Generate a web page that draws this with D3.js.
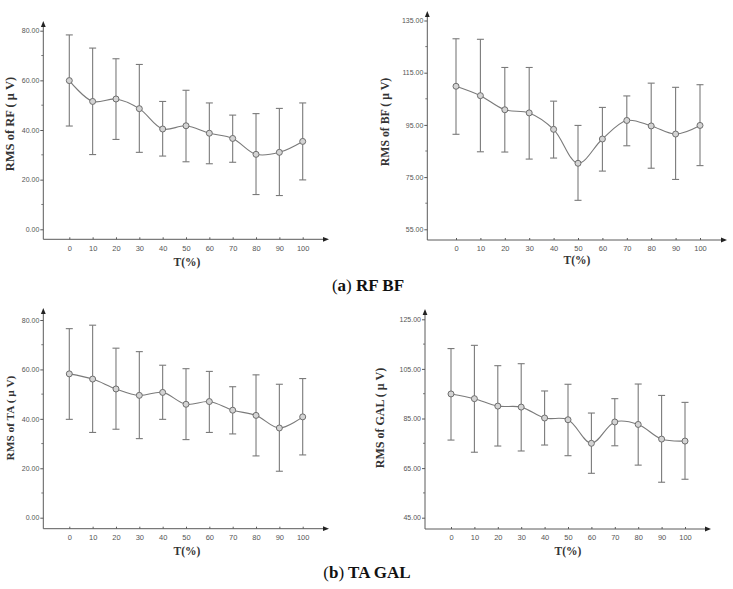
<!DOCTYPE html>
<html>
<head>
<meta charset="utf-8">
<script src="https://cdn.jsdelivr.net/npm/d3@7"></script>
<style>
  body { margin: 0; background: #fff; }
  svg { display: block; }
</style>
</head>
<body>
<svg id="chart" width="733" height="589"></svg>
<script>
// ---- data ----
const tPercent = [0, 10, 20, 30, 40, 50, 60, 70, 80, 90, 100];

const rfMean  = [59.9, 51.5, 52.5, 48.6, 40.4, 41.7, 38.7, 36.6, 30.2, 31.0, 35.4];
const rfUpper = [78.3, 73.0, 68.7, 66.4, 51.5, 56.0, 50.9, 46.0, 46.6, 48.7, 50.9];
const rfLower = [41.6, 30.1, 36.2, 31.0, 29.5, 27.2, 26.4, 27.0, 14.0, 13.6, 19.9];

const bfMean  = [109.8, 106.2, 100.8, 99.6, 93.3, 80.3, 89.6, 96.7, 94.6, 91.5, 94.8];
const bfUpper = [128.0, 127.8, 117.0, 117.0, 104.1, 94.8, 101.7, 106.1, 111.0, 109.4, 110.4];
const bfLower = [91.4, 84.7, 84.6, 81.9, 82.3, 66.1, 77.3, 87.0, 78.4, 74.1, 79.4];

const taMean  = [58.2, 56.1, 52.1, 49.5, 50.7, 45.9, 47.0, 43.5, 41.4, 36.3, 40.8];
const taUpper = [76.5, 77.9, 68.6, 67.2, 61.7, 60.3, 59.2, 53.0, 57.8, 54.0, 56.3];
const taLower = [39.8, 34.5, 35.8, 32.0, 39.8, 31.6, 34.5, 33.9, 25.0, 18.8, 25.4];

const galMean  = [94.9, 93.0, 90.0, 89.6, 85.2, 84.5, 75.0, 83.6, 82.6, 76.7, 75.9];
const galUpper = [113.2, 114.5, 106.3, 107.1, 96.1, 98.8, 87.2, 93.0, 98.9, 94.3, 91.5];
const galLower = [76.3, 71.4, 73.9, 71.9, 74.3, 70.0, 62.9, 74.0, 66.2, 59.3, 60.5];

const rfTicks  = [0, 20, 40, 60, 80];
const bfTicks  = [55, 75, 95, 115, 135];
const taTicks  = [0, 20, 40, 60, 80];
const galTicks = [45, 65, 85, 105, 125];

const rfLabel  = "RMS of RF ( \u03bc V)";
const bfLabel  = "RMS of BF ( \u03bc V)";
const taLabel  = "RMS of TA ( \u03bc V)";
const galLabel = "RMS of GAL ( \u03bc V)";
const xTitle = "T(%)";

// ---- layout ----
const panels = [
  { mean: rfMean, up: rfUpper, lo: rfLower, ticks: rfTicks, label: rfLabel,
    axisX: 43.3, axisY: 239.3, xr: [69.3, 302.7], yr: [229.3, 30.7], yTop: 21, xEnd: 329,
    labX: 10, labY: 124, labSize: 12.5, titleX: 187, titleY: 266 },
  { mean: bfMean, up: bfUpper, lo: bfLower, ticks: bfTicks, label: bfLabel,
    axisX: 427.3, axisY: 240, xr: [456, 700], yr: [229.3, 20.5], yTop: 11, xEnd: 727,
    labX: 385, labY: 122, labSize: 11.8, titleX: 577, titleY: 264 },
  { mean: taMean, up: taUpper, lo: taLower, ticks: taTicks, label: taLabel,
    axisX: 43.3, axisY: 528.7, xr: [69.3, 302.7], yr: [517.7, 320], yTop: 308, xEnd: 329,
    labX: 10, labY: 418, labSize: 11.3, titleX: 187, titleY: 555 },
  { mean: galMean, up: galUpper, lo: galLower, ticks: galTicks, label: galLabel,
    axisX: 425, axisY: 529, xr: [451, 685], yr: [517.7, 319.3], yTop: 309, xEnd: 711,
    labX: 380, labY: 418, labSize: 12, titleX: 568, titleY: 555 }
];

const svg = d3.select("#chart");
const axisColor = "#5a5a5a";
const lineColor = "#7a7a7a";

svg.append("defs").append("marker")
  .attr("id", "arrow").attr("viewBox", "0 0 10 10").attr("refX", 5).attr("refY", 5)
  .attr("markerWidth", 6).attr("markerHeight", 6).attr("orient", "auto")
  .append("path").attr("d", "M0,1 L10,5 L0,9 Z").attr("fill", "#222");

panels.forEach(p => {
  const g = svg.append("g");
  const x = d3.scaleLinear().domain([0, 100]).range(p.xr);
  const y = d3.scaleLinear().domain([p.ticks[0], p.ticks[p.ticks.length - 1]]).range(p.yr);

  // y axis
  const yAx = d3.axisLeft(y).tickValues(p.ticks).tickSize(3).tickFormat(d3.format(".2f"));
  const gy = g.append("g").attr("transform", `translate(${p.axisX},0)`).call(yAx);
  gy.select(".domain").remove();
  gy.selectAll(".tick line").attr("stroke", axisColor);
  gy.selectAll(".tick text").attr("font-family", "Liberation Sans, Arial, sans-serif")
    .attr("font-size", 7).attr("fill", "#555").attr("x", -4);
  // minor ticks
  const minor = p.ticks.slice(0, -1).map((t, i) => (t + p.ticks[i + 1]) / 2);
  g.selectAll(null).data(minor).enter().append("line")
    .attr("x1", p.axisX - 2).attr("x2", p.axisX)
    .attr("y1", d => y(d)).attr("y2", d => y(d))
    .attr("stroke", axisColor).attr("stroke-width", 0.8);
  g.append("line").attr("x1", p.axisX).attr("x2", p.axisX)
    .attr("y1", p.axisY).attr("y2", p.yTop + 3)
    .attr("stroke", axisColor).attr("stroke-width", 1)
    .attr("marker-end", "url(#arrow)");

  // x axis
  const xAx = d3.axisBottom(x).tickValues(tPercent).tickSize(-2).tickPadding(6);
  const gx = g.append("g").attr("transform", `translate(0,${p.axisY})`).call(xAx);
  gx.select(".domain").remove();
  gx.selectAll(".tick line").attr("stroke", axisColor);
  gx.selectAll(".tick text").attr("font-family", "Liberation Sans, Arial, sans-serif")
    .attr("font-size", 7.5).attr("fill", "#555");
  g.append("line").attr("x1", p.axisX).attr("x2", p.xEnd - 3)
    .attr("y1", p.axisY).attr("y2", p.axisY)
    .attr("stroke", axisColor).attr("stroke-width", 1)
    .attr("marker-end", "url(#arrow)");

  // titles
  g.append("text").attr("x", p.titleX).attr("y", p.titleY)
    .attr("text-anchor", "middle").attr("font-family", "Liberation Serif, serif")
    .attr("font-weight", "bold").attr("font-size", 11.5).attr("fill", "#333").text(xTitle);
  g.append("text").attr("transform", `translate(${p.labX},${p.labY}) rotate(-90)`)
    .attr("text-anchor", "middle").attr("dominant-baseline", "central")
    .attr("font-family", "Liberation Serif, serif")
    .attr("font-weight", "bold").attr("font-size", p.labSize).attr("fill", "#333").text(p.label);

  const data = tPercent.map((t, i) => ({ t, m: p.mean[i], u: p.up[i], l: p.lo[i] }));

  // error bars
  const eb = g.selectAll(null).data(data).enter().append("g");
  eb.append("line").attr("x1", d => x(d.t)).attr("x2", d => x(d.t))
    .attr("y1", d => y(d.u)).attr("y2", d => y(d.l))
    .attr("stroke", lineColor).attr("stroke-width", 1.1);
  eb.append("line").attr("x1", d => x(d.t) - 3.5).attr("x2", d => x(d.t) + 3.5)
    .attr("y1", d => y(d.u)).attr("y2", d => y(d.u))
    .attr("stroke", lineColor).attr("stroke-width", 1.1);
  eb.append("line").attr("x1", d => x(d.t) - 3.5).attr("x2", d => x(d.t) + 3.5)
    .attr("y1", d => y(d.l)).attr("y2", d => y(d.l))
    .attr("stroke", lineColor).attr("stroke-width", 1.1);

  // smooth line
  const line = d3.line().x(d => x(d.t)).y(d => y(d.m)).curve(d3.curveCatmullRom.alpha(0.5));
  g.append("path").datum(data).attr("d", line)
    .attr("fill", "none").attr("stroke", lineColor).attr("stroke-width", 1.1);

  // markers
  g.selectAll(null).data(data).enter().append("circle")
    .attr("cx", d => x(d.t)).attr("cy", d => y(d.m)).attr("r", 3)
    .attr("fill", "#d4d4d4").attr("stroke", "#6e6e6e").attr("stroke-width", 1);
});

// captions
const captions = [
  { lab: "a", rest: " RF BF", x: 368, y: 291 },
  { lab: "b", rest: " TA GAL", x: 367, y: 578 }
];
captions.forEach(c => {
  const t = svg.append("text").attr("x", c.x).attr("y", c.y).attr("text-anchor", "middle")
    .attr("font-family", "Liberation Serif, serif").attr("font-size", 17).attr("fill", "#111");
  t.append("tspan").text("(");
  t.append("tspan").attr("font-weight", "bold").text(c.lab);
  t.append("tspan").text(")");
  t.append("tspan").attr("font-weight", "bold").text(c.rest);
});
</script>
</body>
</html>
